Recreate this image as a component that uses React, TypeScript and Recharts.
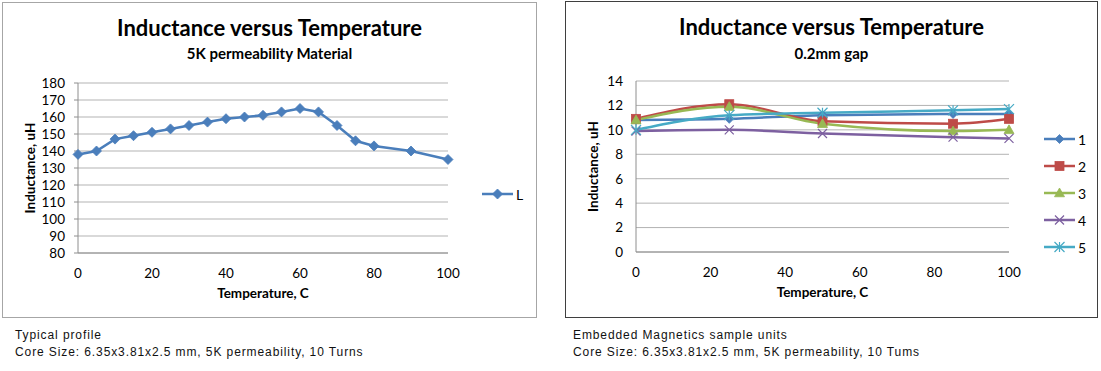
import { CartesianGrid, Label, Legend, Line, LineChart, XAxis, YAxis } from "recharts";

const FONT = "Lato, 'Noto Sans', sans-serif";
const CAPTION_FONT = "'Liberation Sans', Arial, sans-serif";

// left chart: typical profile
const profileTemps = [0, 5, 10, 15, 20, 25, 30, 35, 40, 45, 50, 55, 60, 65, 70, 75, 80, 90, 100];
const profileInductance = [138, 140, 147, 149, 151, 153, 155, 157, 159, 160, 161, 163, 165, 163, 155, 146, 143, 140, 135];
const profileTicks = [80, 90, 100, 110, 120, 130, 140, 150, 160, 170, 180];

// right chart: sample units
const unitTemps = [0, 25, 50, 85, 100];
const unit1 = [10.8, 10.9, 11.2, 11.3, 11.3];
const unit2 = [10.9, 12.1, 10.7, 10.5, 10.9];
const unit3 = [10.8, 11.9, 10.5, 9.9, 10.0];
const unit4 = [9.9, 10.0, 9.7, 9.4, 9.3];
const unit5 = [10.0, 11.2, 11.4, 11.6, 11.7];
const unitTicks = [0, 2, 4, 6, 8, 10, 12, 14];

const tempTicks = [0, 20, 40, 60, 80, 100];

type MarkerKind = "diamond" | "square" | "triangle" | "cross" | "star";

const profileData = profileTemps.map((temp, i) => ({ temp, L: profileInductance[i] }));
const unitData = unitTemps.map((temp, i) => ({
  temp,
  u1: unit1[i],
  u2: unit2[i],
  u3: unit3[i],
  u4: unit4[i],
  u5: unit5[i]
}));

const unitSeries: { key: string; name: string; color: string; kind: MarkerKind; size: number }[] = [
  { key: "u1", name: "1", color: "#4A7EBB", kind: "diamond", size: 9 },
  { key: "u2", name: "2", color: "#BE4B48", kind: "square", size: 9 },
  { key: "u3", name: "3", color: "#98B954", kind: "triangle", size: 10 },
  { key: "u4", name: "4", color: "#7D60A0", kind: "cross", size: 9 },
  { key: "u5", name: "5", color: "#46AAC5", kind: "star", size: 10 }
];

const Marker = ({ kind, cx, cy, color, size }: { kind: MarkerKind; cx: number; cy: number; color: string; size: number }) => {
  const r = size / 2;
  if (cx == null || cy == null) return null;
  switch (kind) {
    case "diamond":
      return <polygon points={`${cx},${cy - r} ${cx + r},${cy} ${cx},${cy + r} ${cx - r},${cy}`} fill={color} stroke={color} strokeWidth={0.8} />;
    case "square":
      return <rect x={cx - r} y={cy - r} width={size} height={size} fill={color} stroke={color} strokeWidth={0.8} />;
    case "triangle":
      return <polygon points={`${cx},${cy - r} ${cx + r},${cy + r * 0.75} ${cx - r},${cy + r * 0.75}`} fill={color} stroke={color} strokeWidth={0.8} />;
    case "cross":
      return (
        <path d={`M${cx - r},${cy - r}L${cx + r},${cy + r}M${cx - r},${cy + r}L${cx + r},${cy - r}`} stroke={color} strokeWidth={1.2} fill="none" />
      );
    default:
      return (
        <path
          d={`M${cx - r},${cy - r}L${cx + r},${cy + r}M${cx - r},${cy + r}L${cx + r},${cy - r}M${cx},${cy - r}L${cx},${cy + r}`}
          stroke={color}
          strokeWidth={1.2}
          fill="none"
        />
      );
  }
};

const dotFor = (kind: MarkerKind, color: string, size: number) => (props: any) => (
  <Marker key={`${kind}-${props.index}`} kind={kind} cx={props.cx} cy={props.cy} color={color} size={size} />
);

const LegendList = ({ payload, kinds, rowHeight }: { payload?: any[]; kinds: Record<string, { kind: MarkerKind; size: number }>; rowHeight: number }) => (
  <div style={{ fontFamily: FONT, fontSize: 14, color: "#000" }}>
    {(payload ?? []).map((entry) => {
      const key = String(entry.dataKey);
      const m = kinds[key];
      return (
        <div key={key} style={{ display: "flex", alignItems: "center", height: rowHeight }}>
          <svg width={31} height={14} style={{ display: "block" }}>
            <line x1={0} y1={7} x2={31} y2={7} stroke={entry.color} strokeWidth={2.5} />
            <Marker kind={m.kind} cx={15.5} cy={7} color={entry.color} size={m.size} />
          </svg>
          <span style={{ marginLeft: 3 }}>{entry.value}</span>
        </div>
      );
    })}
  </div>
);

const tickStyle = { fill: "#000", fontSize: 13.5, fontFamily: FONT };
const axisColor = "#8e8e8e";
const gridColor = "#b3b3b3";

const yTitle = (text: string, x: number) => (props: any) => {
  const vb = props.viewBox;
  const cy = vb.y + vb.height / 2;
  return (
    <text
      x={x}
      y={cy}
      transform={`rotate(-90, ${x}, ${cy})`}
      textAnchor="middle"
      dominantBaseline="central"
      style={{ fontFamily: FONT, fontSize: 13.5, fontWeight: 700, fill: "#000" }}
    >
      {text}
    </text>
  );
};

const titleStyle = (top: number) => ({
  position: "absolute" as const,
  left: 0,
  right: 0,
  top,
  textAlign: "center" as const,
  fontFamily: FONT,
  fontWeight: 700,
  color: "#000"
});

const captionStyle = (left: number) => ({
  position: "absolute" as const,
  left,
  top: 327,
  fontFamily: CAPTION_FONT,
  fontSize: 12,
  lineHeight: "17px",
  letterSpacing: 0.9,
  color: "#111"
});

const ProfileChart = () => (
  <div style={{ position: "absolute", left: 2, top: 2, width: 535, height: 316, border: "1px solid #a6a6a6", boxSizing: "border-box" }}>
    <div style={{ ...titleStyle(13), fontSize: 22, lineHeight: "24px" }}>Inductance versus Temperature</div>
    <div style={{ ...titleStyle(41), fontSize: 15, lineHeight: "18px" }}>5K permeability Material</div>
    <LineChart width={533} height={314} data={profileData} margin={{ top: 80, right: 88, bottom: 14, left: 0 }} style={{ position: "absolute", left: 0, top: 0 }}>
      <CartesianGrid vertical={false} stroke={gridColor} />
      <XAxis
        dataKey="temp"
        type="number"
        domain={[0, 100]}
        ticks={tempTicks}
        interval={0}
        height={50}
        tick={tickStyle}
        tickLine={false}
        tickSize={6}
        tickMargin={9}
        axisLine={{ stroke: axisColor }}
      >
        <Label value="Temperature, C" position="insideBottom" offset={5} style={{ fontFamily: FONT, fontSize: 13.5, fontWeight: 700, fill: "#000" }} />
      </XAxis>
      <YAxis
        type="number"
        domain={[80, 180]}
        ticks={profileTicks}
        interval={0}
        width={75}
        tick={tickStyle}
        tickSize={4}
        tickMargin={9}
        tickLine={{ stroke: axisColor }}
        axisLine={{ stroke: axisColor }}
      >
        <Label content={yTitle("Inductance, uH", 27)} />
      </YAxis>
      <Legend
        layout="vertical"
        align="center"
        verticalAlign="middle"
        wrapperStyle={{ left: 479, top: 181, width: 50 }}
        content={(props: any) => <LegendList payload={props.payload} kinds={{ L: { kind: "diamond", size: 10 } }} rowHeight={20} />}
      />
      <Line
        dataKey="L"
        name="L"
        type="linear"
        stroke="#4A7EBB"
        strokeWidth={2.5}
        dot={dotFor("diamond", "#4A7EBB", 10)}
        activeDot={false}
        isAnimationActive={false}
      />
    </LineChart>
  </div>
);

const UnitsChart = () => (
  <div style={{ position: "absolute", left: 565, top: 1, width: 533, height: 317, border: "1px solid #3f3f3f", boxSizing: "border-box" }}>
    <div style={{ ...titleStyle(13), fontSize: 22, lineHeight: "24px" }}>Inductance versus Temperature</div>
    <div style={{ ...titleStyle(42), fontSize: 15, lineHeight: "18px" }}>0.2mm gap</div>
    <LineChart width={531} height={315} data={unitData} margin={{ top: 79, right: 88, bottom: 15, left: 0 }} style={{ position: "absolute", left: 0, top: 0 }}>
      <CartesianGrid vertical={false} stroke={gridColor} />
      <XAxis
        dataKey="temp"
        type="number"
        domain={[0, 100]}
        ticks={tempTicks}
        interval={0}
        height={50}
        tick={tickStyle}
        tickLine={false}
        tickSize={6}
        tickMargin={9}
        axisLine={{ stroke: axisColor }}
      >
        <Label value="Temperature, C" position="insideBottom" offset={5} style={{ fontFamily: FONT, fontSize: 13.5, fontWeight: 700, fill: "#000" }} />
      </XAxis>
      <YAxis
        type="number"
        domain={[0, 14]}
        ticks={unitTicks}
        interval={0}
        width={70}
        tick={tickStyle}
        tickSize={4}
        tickMargin={9}
        tickLine={false}
        axisLine={{ stroke: axisColor }}
      >
        <Label content={yTitle("Inductance, uH", 27)} />
      </YAxis>
      <Legend
        layout="vertical"
        align="center"
        verticalAlign="middle"
        wrapperStyle={{ left: 478, top: 123.5, width: 50 }}
        content={(props: any) => (
          <LegendList
            payload={props.payload}
            kinds={Object.fromEntries(unitSeries.map((s) => [s.key, { kind: s.kind, size: s.size }]))}
            rowHeight={27}
          />
        )}
      />
      {unitSeries.map((s) => (
        <Line
          key={s.key}
          dataKey={s.key}
          name={s.name}
          type="monotone"
          stroke={s.color}
          strokeWidth={2.5}
          dot={dotFor(s.kind, s.color, s.size)}
          activeDot={false}
          isAnimationActive={false}
        />
      ))}
    </LineChart>
  </div>
);

export default function App() {
  return (
    <div style={{ position: "absolute", left: 0, top: 0, width: 1101, height: 371, background: "#fff" }}>
      <ProfileChart />
      <UnitsChart />
      <div style={captionStyle(15)}>
        Typical profile
        <br />
        Core Size: 6.35x3.81x2.5 mm, 5K permeability, 10 Turns
      </div>
      <div style={captionStyle(573)}>
        Embedded Magnetics sample units
        <br />
        Core Size: 6.35x3.81x2.5 mm, 5K permeability, 10 Tums
      </div>
    </div>
  );
}
